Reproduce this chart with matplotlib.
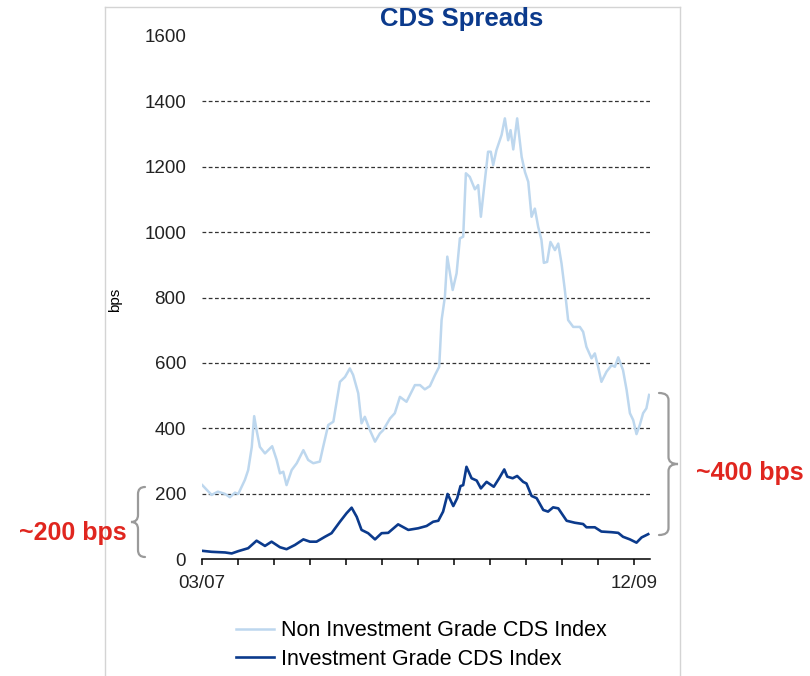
import numpy as np
import matplotlib
matplotlib.use("Agg")
import matplotlib.pyplot as plt
from matplotlib.path import Path
from matplotlib.patches import PathPatch
from matplotlib.lines import Line2D

plt.rcParams['font.family'] = ['Liberation Sans', 'DejaVu Sans']

# weekly index from 03/07 (week 0) up to 12/09 and a bit beyond
non_ig_weeks = [0.1, 3.2, 5.3, 7.7, 9.3, 11, 12.1, 14.3, 15.4, 16.6, 17.4, 18.2, 19.3, 21,
                23.4, 24.9, 26, 27.1, 28.2, 29.9, 31.6, 33.8, 35.4, 37.1, 39.3, 40.4, 42.1,
                43.8, 46, 47.7, 49.3, 50.4, 52.1, 53.2, 54.3, 56, 57.7, 59.3, 60.4, 62.7,
                64.3, 66, 68.2, 71, 72.7, 74.3, 76, 77.7, 79.1, 79.9, 81, 81.8, 82.7, 83.6,
                84.9, 86, 87.1, 88, 89.3, 91, 92.1, 93, 94.1, 95.4, 96.3, 97.1, 98.2, 99.9,
                101, 102.1, 102.9, 103.8, 105.1, 106.6, 107.7, 108.8, 109.9, 111, 112.1,
                113.2, 114, 115.1, 116.2, 117.7, 118.8, 119.9, 121, 122.1, 123.8, 126,
                127.1, 128.2, 129.9, 131, 132.1, 133.2, 134.9, 136.6, 137.7, 138.8, 140.4,
                141.6, 142.7, 143.8, 144.9, 146, 147.1, 148.2, 149.1]
non_ig_bps = [226, 196, 206, 199, 189, 203, 199, 242, 272, 343, 437, 394, 343, 323,
              345, 303, 262, 267, 226, 272, 293, 333, 303, 293, 298, 343, 410,
              420, 542, 557, 583, 563, 507, 415, 435, 394, 359, 384, 394, 430,
              446, 496, 481, 532, 532, 519, 529, 563, 588, 731, 802, 925, 874, 823,
              874, 981, 986, 1180, 1169, 1131, 1144, 1047, 1139, 1246, 1246, 1205, 1251, 1297,
              1348, 1281, 1312, 1253, 1348, 1230, 1184, 1154, 1047, 1072, 1017,
              976, 906, 909, 970, 945, 965, 904, 823, 731, 710, 710,
              695, 649, 614, 629, 588, 542, 573, 593, 588, 617, 578,
              517, 446, 425, 382, 410, 446, 461, 502]

ig_weeks = [0.1, 3.2, 7.7, 9.9, 12.1, 15.4, 18.2, 21, 23.2, 26, 28.2, 31, 33.8, 36, 38.2,
            41, 43.2, 46, 48.2, 49.9, 51.6, 53.2, 55.4, 57.7, 59.9, 62.1, 65.4, 68.8,
            72.1, 74.9, 77.1, 78.8, 80.4, 81.9, 83.8, 85.1, 86.2, 87.1, 88.2, 89.9, 91.6,
            93, 94.9, 97.3, 99.1, 100.8, 101.8, 103.6, 105.1, 107.1, 108.2, 109.9, 111.6,
            113.8, 115.4, 117.1, 118.8, 121.6, 124.3, 127.1, 128.2, 131, 133.2, 136.6,
            138.8, 140.4, 142.7, 144.9, 146.6, 148.8]
ig_bps = [25, 22, 20, 17, 24, 33, 56, 40, 53, 36, 30, 43, 60, 53, 53,
          68, 79, 114, 140, 157, 129, 89, 79, 60, 79, 80, 106, 89,
          94, 101, 114, 117, 145, 199, 162, 186, 223, 226, 282, 247, 240,
          216, 236, 221, 247, 274, 252, 247, 254, 236, 231, 193, 186,
          150, 145, 158, 155, 117, 111, 107, 97, 97, 84, 82,
          80, 68, 60, 50, 66, 76]

tick_weeks = np.arange(0, 145, 12)
tick_labels = ['03/07'] + [''] * 11 + ['12/09']
y_ticks = [0, 200, 400, 600, 800, 1000, 1200, 1400, 1600]
grid_levels = [200, 400, 600, 800, 1000, 1200, 1400]

light_blue = '#bdd7ee'
dark_blue = '#0b3a8c'
red = '#e0261f'
brace_grey = '#9a9a9a'

W, H = 810, 676
fig = plt.figure(figsize=(W / 100, H / 100), dpi=100)


def fx(x):
    return x / W


def fy(y):
    return 1 - y / H


ax = fig.add_axes([fx(202), fy(559), fx(650) - fx(202), fy(36) - fy(559)])

for lvl in grid_levels:
    ax.axhline(lvl, color='#333333', lw=0.9, linestyle=(0, (3, 2)), zorder=1)

ax.plot(non_ig_weeks, non_ig_bps, color=light_blue, lw=1.8,
        label='Non Investment Grade CDS Index', zorder=3)
ax.plot(ig_weeks, ig_bps, color=dark_blue, lw=1.9,
        label='Investment Grade CDS Index', zorder=4)

ax.set_xlim(0, 149.4)
ax.set_ylim(0, 1600)
ax.set_yticks(y_ticks)
ax.set_yticklabels([str(v) for v in y_ticks])
ax.set_xticks(tick_weeks)
ax.set_xticklabels(tick_labels)
ax.tick_params(axis='y', length=0, pad=11.5, labelsize=13.5, labelcolor='#222222')
ax.tick_params(axis='x', direction='out', length=4.5, width=1.1, pad=7,
               labelsize=13.5, labelcolor='#222222')
for side in ['left', 'right', 'top']:
    ax.spines[side].set_visible(False)
ax.spines['bottom'].set_linewidth(1.1)
ax.set_ylabel('bps', fontsize=11)
ax.yaxis.set_label_coords(fx(122), fy(300), transform=fig.transFigure)

fig.text(fx(462), fy(19), 'CDS Spreads', ha='center', va='center',
         fontsize=18.5, fontweight='bold', color=dark_blue)

leg = ax.legend(loc='center left', bbox_to_anchor=(fx(236), fy(645)),
                bbox_transform=fig.transFigure, frameon=False, fontsize=15.5,
                handlelength=1.75, handletextpad=0.35, labelspacing=0.35,
                borderpad=0, borderaxespad=0)

# frame lines of the original slide box
for seg in [((105, 105), (7, 676)), ((680, 680), (7, 676)), ((105, 680), (7, 7))]:
    fig.add_artist(Line2D([fx(v) for v in seg[0]], [fy(v) for v in seg[1]],
                          color='#d4d4d4', lw=1.0, transform=fig.transFigure))


def brace(x_arm, x_tip, y_top, y_bot, r=7):
    """ curly brace in pixel coords, opening towards x_arm """
    xs = (x_arm + x_tip) / 2.0
    ym = (y_top + y_bot) / 2.0
    s = 1 if y_bot > y_top else -1
    pts = [(x_arm, y_top), (xs, y_top), (xs, y_top + s * r),
           (xs, ym - s * r),
           (xs, ym), (x_tip, ym),
           (xs, ym), (xs, ym + s * r),
           (xs, y_bot - s * r),
           (xs, y_bot), (x_arm, y_bot)]
    codes = [Path.MOVETO, Path.CURVE3, Path.CURVE3, Path.LINETO,
             Path.CURVE3, Path.CURVE3, Path.CURVE3, Path.CURVE3,
             Path.LINETO, Path.CURVE3, Path.CURVE3]
    verts = [(fx(x), fy(y)) for x, y in pts]
    fig.add_artist(PathPatch(Path(verts, codes), fill=False, edgecolor=brace_grey,
                             lw=1.6, transform=fig.transFigure, capstyle='round'))


brace(145, 131, 487, 557)
brace(659, 678, 393, 535)

fig.text(fx(73), fy(533), '~200 bps', ha='center', va='center',
         fontsize=18, fontweight='bold', color=red)
fig.text(fx(750), fy(473), '~400 bps', ha='center', va='center',
         fontsize=18, fontweight='bold', color=red)

fig.savefig('out.png', dpi=100)
